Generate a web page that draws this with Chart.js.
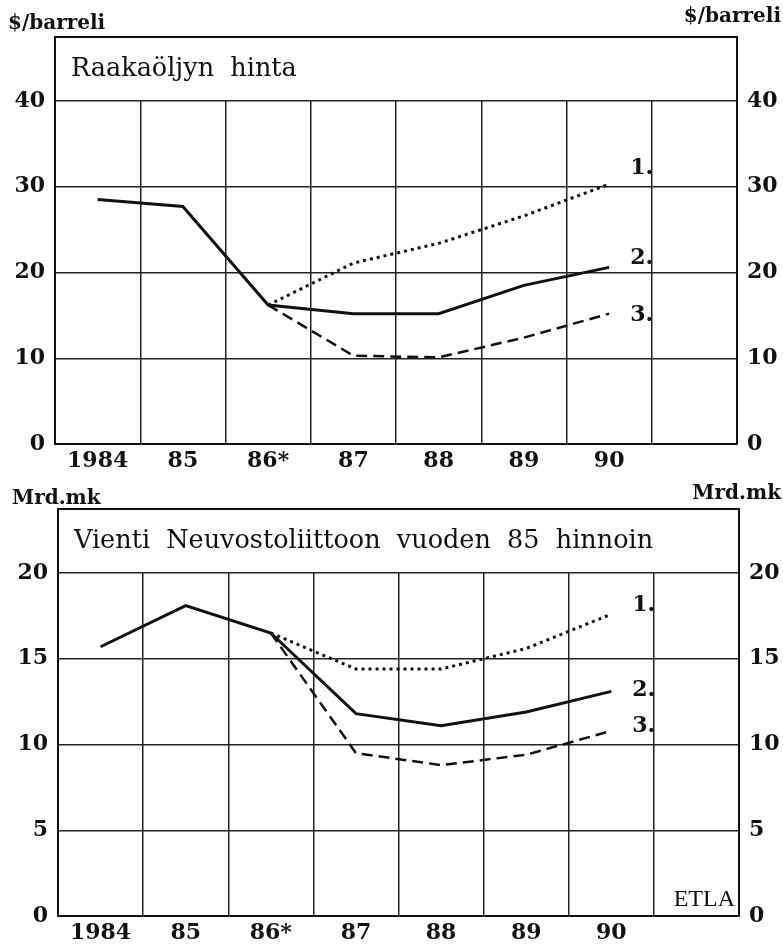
<!DOCTYPE html>
<html>
<head>
<meta charset="utf-8">
<script src="https://cdn.jsdelivr.net/npm/chart.js@4.4.1/dist/chart.umd.min.js"></script>
<style>
  html, body { margin: 0; padding: 0; background: #fff; }
  body { width: 783px; height: 947px; position: relative; overflow: hidden; }
  .panel { position: absolute; left: 0; width: 783px; }
  .unit {
    position: absolute;
    font-family: 'DejaVu Serif', serif;
    font-weight: bold;
    font-size: 20px;
    line-height: 24px;
    color: #111;
    white-space: nowrap;
  }
</style>
</head>
<body>
<div class="panel" style="top:0; height:475px;"><canvas id="oilChart" width="783" height="475"></canvas></div>
<div class="panel" style="top:475px; height:472px;"><canvas id="exportChart" width="783" height="472"></canvas></div>
<div class="unit" style="left:8px; top:10px;">$/barreli</div>
<div class="unit" style="right:2px; top:3px;">$/barreli</div>
<div class="unit" style="left:12px; top:485px;">Mrd.mk</div>
<div class="unit" style="right:2px; top:480px;">Mrd.mk</div>

<script>
// Years on the x axis (last column is left empty in the original)
const years = ['1984', '85', '86*', '87', '88', '89', '90', ''];
const seriesNames = ['1.', '2.', '3.'];

// Crude oil price, $/barrel
const oilHigh   = [null, null, 16.2, 21.1, 23.4, 26.6, 30.3, null];   // 1. dotted
const oilBase   = [28.5, 27.7, 16.2, 15.2, 15.2, 18.5, 20.6, null];   // 2. solid
const oilLow    = [null, null, 16.2, 10.3, 10.1, 12.4, 15.2, null];   // 3. dashed

// Exports to the Soviet Union at 1985 prices, bn FIM
const exportHigh = [null, null, 16.5, 14.4, 14.4, 15.6, 17.6, null];  // 1. dotted
const exportBase = [15.7, 18.1, 16.5, 11.8, 11.1, 11.9, 13.1, null];  // 2. solid
const exportLow  = [null, null, 16.5, 9.5, 8.8, 9.4, 10.8, null];     // 3. dashed

const oilTicks = { max: 40, step: 10 };
const exportTicks = { max: 20, step: 5 };

// Draws the title box above the plot, the series numbers and the source mark
const panelFrame = {
    id: 'panelFrame',
    afterDraw: function(chart, args, o) {
        const a = chart.chartArea;
        const c = chart.ctx;
        const top = a.top - o.headerHeight;
        c.save();
        c.strokeStyle = '#111';
        c.lineWidth = 2;
        c.beginPath();
        c.moveTo(a.left, a.top);
        c.lineTo(a.left, top);
        c.lineTo(a.right, top);
        c.lineTo(a.right, a.top);
        c.stroke();

        c.fillStyle = '#111';
        c.textBaseline = 'middle';
        c.textAlign = 'left';
        c.font = "25.5px 'DejaVu Serif'";
        c.fillText(o.title, a.left + 16, top + 32);

        c.font = "bold 22px 'DejaVu Serif'";
        chart.data.datasets.forEach(function(ds, i) {
            const meta = chart.getDatasetMeta(i);
            let last = -1;
            ds.data.forEach(function(v, j) { if (v !== null) last = j; });
            const pt = meta.data[last];
            c.fillText(ds.label, pt.x + 21, pt.y + o.labelNudge[i]);
        });

        if (o.mark) {
            c.font = "24px 'Liberation Serif'";
            c.textAlign = 'right';
            c.textBaseline = 'alphabetic';
            c.fillText(o.mark, a.right - 4, a.bottom - 10);
        }
        c.restore();
    }
};

function initPanelChart(canvasId, series, yTicks, layoutCfg) {
    const ctx = document.getElementById(canvasId);

    const lineStyles = [
        { width: 3, dash: [3, 4] },
        { width: 3, dash: [] },
        { width: 2.5, dash: [11, 6] }
    ];

    const datasets = series.map(function(data, i) {
        return {
            label: seriesNames[i],
            data: data,
            borderColor: '#111',
            backgroundColor: '#111',
            borderWidth: lineStyles[i].width,
            borderDash: lineStyles[i].dash,
            pointRadius: 0,
            pointHoverRadius: 0,
            tension: 0,
            fill: false
        };
    });

    const tickFont = { family: 'DejaVu Serif', weight: 'bold', size: 22 };

    function yAxis(position, width, showGrid) {
        return {
            position: position,
            min: 0,
            max: yTicks.max,
            ticks: {
                stepSize: yTicks.step,
                color: '#111',
                font: tickFont,
                padding: 10
            },
            grid: {
                display: showGrid,
                color: '#222',
                lineWidth: 1.5,
                drawTicks: false
            },
            border: { display: true, color: '#111', width: 2 },
            afterFit: function(scale) { scale.width = width; }
        };
    }

    return new Chart(ctx, {
        type: 'line',
        data: {
            labels: years,
            datasets: datasets
        },
        options: {
            responsive: false,
            animation: false,
            layout: { padding: { top: layoutCfg.top, left: 0, right: 0, bottom: 0 } },
            scales: {
                x: {
                    type: 'category',
                    offset: true,
                    ticks: {
                        color: '#111',
                        font: tickFont,
                        padding: 4,
                        autoSkip: false,
                        maxRotation: 0
                    },
                    grid: {
                        offset: true,
                        color: '#222',
                        lineWidth: 1.5,
                        drawTicks: false
                    },
                    border: { display: true, color: '#111', width: 2 },
                    afterFit: function(scale) { scale.height = 31; }
                },
                y: yAxis('left', layoutCfg.left, true),
                y2: yAxis('right', layoutCfg.right, false)
            },
            plugins: {
                legend: { display: false },
                tooltip: { enabled: false },
                panelFrame: {
                    headerHeight: 64,
                    title: layoutCfg.title,
                    labelNudge: layoutCfg.labelNudge,
                    mark: layoutCfg.mark
                }
            }
        },
        plugins: [panelFrame]
    });
}

initPanelChart('oilChart', [oilHigh, oilBase, oilLow], oilTicks, {
    top: 101, left: 55, right: 46,
    title: 'Raakaöljyn  hinta',
    labelNudge: [-16, -9, 2],
    mark: ''
});

initPanelChart('exportChart', [exportHigh, exportBase, exportLow], exportTicks, {
    top: 98, left: 58, right: 44,
    title: 'Vienti  Neuvostoliittoon  vuoden  85  hinnoin',
    labelNudge: [-9, -1, -4],
    mark: 'ETLA'
});
</script>
</body>
</html>
